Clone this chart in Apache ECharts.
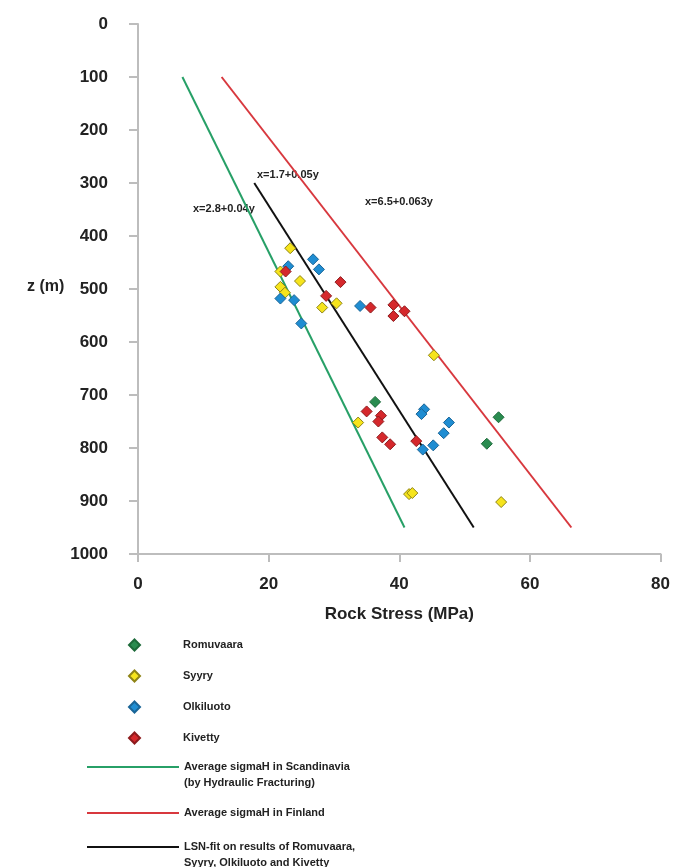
<!DOCTYPE html>
<html>
<head>
<meta charset="utf-8">
<script src="https://cdn.jsdelivr.net/npm/echarts@6/dist/echarts.min.js"></script>
<style>
html,body{margin:0;padding:0;background:#fff;}
#chart{width:673px;height:867px;}
</style>
</head>
<body>
<div id="chart"></div>
<script>
// ---- data ----
const xTicks = [0, 20, 40, 60, 80];
const yTicks = [0, 100, 200, 300, 400, 500, 600, 700, 800, 900, 1000];

const romuvaara = [[36.3,713],[55.2,742],[53.4,792]];
const syyry = [[23.3,423],[21.8,467],[24.8,485],[21.8,496],[22.5,507],[30.4,527],[28.2,535],[45.3,625],[33.7,752],[41.5,887],[42.0,885],[55.6,902]];
const olkiluoto = [[26.8,444],[27.7,463],[23.0,457],[21.8,518],[23.9,521],[34.0,532],[25.0,565],[43.8,727],[43.4,736],[47.6,752],[46.8,772],[45.2,795],[43.6,803]];
const kivetty = [[22.6,467],[31.0,487],[28.8,513],[35.6,535],[39.1,530],[40.8,542],[39.1,551],[35.0,731],[37.2,739],[36.8,750],[37.4,780],[38.6,793],[42.6,787]];

const scandinaviaLine = [[6.8,100],[40.8,950]];
const finlandLine = [[12.8,100],[66.35,950]];
const lsnFitLine = [[17.8,300],[51.4,950]];

const equationLabels = ['x=2.8+0.04y', 'x=1.7+0.05y', 'x=6.5+0.063y'];
const scatterNames = ['Romuvaara', 'Syyry', 'Olkiluoto', 'Kivetty'];
const lineNames = ['Average sigmaH in Scandinavia\n(by Hydraulic Fracturing)', 'Average sigmaH in Finland', 'LSN-fit on results of Romuvaara,\nSyyry, Olkiluoto and Kivetty'];
const xAxisTitle = 'Rock Stress (MPa)';
const yAxisTitle = 'z (m)';

// ---- chart ----
const FONT = '"Liberation Sans", Arial, sans-serif';
const chart = echarts.init(document.getElementById('chart'));

function scatterSeries(name, data, color, border) {
  return {
    name: name, type: 'scatter', data: data, symbol: 'diamond', symbolSize: 11, z: 5,
    itemStyle: { color: color, borderColor: border, borderWidth: 1, opacity: 1 }
  };
}
function lineSeries(name, data, color) {
  return {
    name: name, type: 'line', data: data, symbol: 'none', showSymbol: false, z: 3,
    lineStyle: { color: color, width: 2 }, itemStyle: { color: color }, silent: true
  };
}
const axisColor = '#bdbdbd';
const legendText = { fontFamily: FONT, fontWeight: 'bold', fontSize: 11, color: '#222' };
// multi-line legend names: pad with an empty first line so the first text line sits on the sample line
function firstLineCentered(name) { return name.indexOf('\n') >= 0 ? '\n' + name : name; }

const option = {
  animation: false,
  backgroundColor: '#fff',
  grid: { left: 138, right: 8, top: 24, bottom: 313, containLabel: false },
  xAxis: {
    type: 'value', min: xTicks[0], max: xTicks[xTicks.length-1], interval: 20,
    name: xAxisTitle, nameLocation: 'middle', nameGap: 52,
    nameTextStyle: { fontFamily: FONT, fontWeight: 'bold', fontSize: 17, color: '#222' },
    axisLine: { show: true, onZero: false, lineStyle: { color: axisColor, width: 2 } },
    axisTick: { show: true, inside: false, length: 8, lineStyle: { color: axisColor, width: 2 } },
    axisLabel: { margin: 22, fontFamily: FONT, fontWeight: 'bold', fontSize: 17, color: '#222',
      formatter: v => String(v) },
    splitLine: { show: false }
  },
  yAxis: {
    type: 'value', inverse: true, min: yTicks[0], max: yTicks[yTicks.length-1], interval: 100,
    axisLine: { show: true, onZero: false, lineStyle: { color: axisColor, width: 2 } },
    axisTick: { show: true, inside: false, length: 9, lineStyle: { color: axisColor, width: 2 } },
    axisLabel: { margin: 30, fontFamily: FONT, fontWeight: 'bold', fontSize: 17, color: '#222',
      formatter: v => String(v) },
    splitLine: { show: false }
  },
  legend: [
    { data: scatterNames, orient: 'vertical', left: 128, top: 638, padding: 0, itemGap: 17,
      itemWidth: 11, itemHeight: 11, icon: 'diamond', selectedMode: false,
      textStyle: Object.assign({ lineHeight: 14, padding: [0,0,0,38] }, legendText) },
    { data: [lineNames[0]], left: 87, top: 743, padding: 0, itemWidth: 92, itemHeight: 2, icon: 'rect',
      selectedMode: false, formatter: firstLineCentered,
      textStyle: Object.assign({ lineHeight: 16 }, legendText) },
    { data: [lineNames[1]], left: 87, top: 806, padding: 0, itemWidth: 92, itemHeight: 2, icon: 'rect',
      selectedMode: false,
      textStyle: Object.assign({ lineHeight: 14 }, legendText) },
    { data: [lineNames[2]], left: 87, top: 823, padding: 0, itemWidth: 92, itemHeight: 2, icon: 'rect',
      selectedMode: false, formatter: firstLineCentered,
      textStyle: Object.assign({ lineHeight: 16 }, legendText) }
  ],
  graphic: [
    { type: 'text', left: 27, top: 279, style: { text: yAxisTitle, fontFamily: FONT, fontWeight: 'bold', fontSize: 16, fill: '#222' } },
    { type: 'text', left: 193, top: 203, style: { text: equationLabels[0], fontFamily: FONT, fontWeight: 'bold', fontSize: 11, fill: '#222' } },
    { type: 'text', left: 257, top: 169, style: { text: equationLabels[1], fontFamily: FONT, fontWeight: 'bold', fontSize: 11, fill: '#222' } },
    { type: 'text', left: 365, top: 196, style: { text: equationLabels[2], fontFamily: FONT, fontWeight: 'bold', fontSize: 11, fill: '#222' } }
  ],
  series: [
    lineSeries(lineNames[0], scandinaviaLine, '#27a067'),
    lineSeries(lineNames[1], finlandLine, '#d8383e'),
    lineSeries(lineNames[2], lsnFitLine, '#111111'),
    scatterSeries(scatterNames[0], romuvaara, '#2a8c50', '#1d6a3a'),
    scatterSeries(scatterNames[1], syyry, '#f6e41c', '#8f8416'),
    scatterSeries(scatterNames[2], olkiluoto, '#1f8dd2', '#1a6597'),
    scatterSeries(scatterNames[3], kivetty, '#d5282c', '#8d1b1d')
  ]
};
chart.setOption(option);
</script>
</body>
</html>
